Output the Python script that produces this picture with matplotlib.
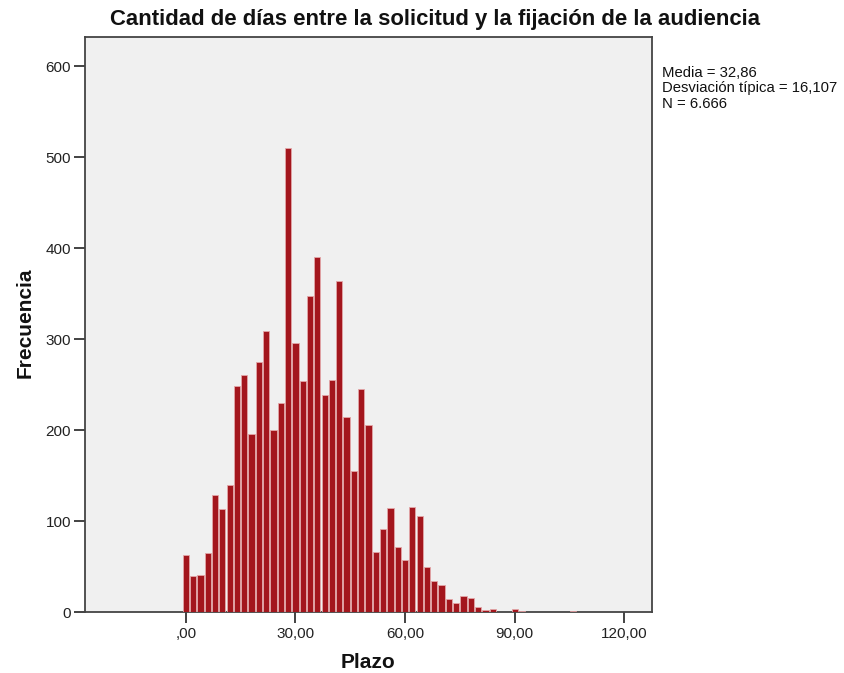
import matplotlib
matplotlib.use("Agg")
import matplotlib.pyplot as plt
import numpy as np

plt.rcParams['font.family'] = ['Liberation Sans', 'DejaVu Sans']

bin_centers_start = 0
bin_width = 2
counts = [63, 40, 41, 65, 129, 113, 140, 248, 261, 196, 275, 309, 200, 230,
          510, 296, 254, 347, 390, 239, 255, 364, 214, 155, 245, 205, 66, 91,
          114, 71, 57, 115, 105, 49, 34, 30, 14, 10, 18, 15, 5, 2, 3, 0, 0,
          3, 1, 0, 0, 0, 0, 0, 0, 1]
x_ticks = [0, 30, 60, 90, 120]
x_tick_labels = [",00", "30,00", "60,00", "90,00", "120,00"]
y_ticks = [0, 100, 200, 300, 400, 500, 600]
title = "Cantidad de días entre la solicitud y la fijación de la audiencia"
stats_text = "Media = 32,86\nDesviación típica = 16,107\nN = 6.666"

centers = bin_centers_start + bin_width * np.arange(len(counts))

fig = plt.figure(figsize=(8.44, 6.73), dpi=100)
ax = fig.add_axes([85/844, 1-612/673, (652-85)/844, (612-37)/673])
ax.set_facecolor('#F0F0F0')
ax.bar(centers, counts, width=1.7, color='#A3161D', edgecolor='#E3A6A8',
       linewidth=0.6, zorder=3)
ax.set_xlim(-27.6, 127.6)
ax.set_ylim(0, 632)
ax.set_xticks(x_ticks)
ax.set_xticklabels(x_tick_labels)
ax.set_yticks(y_ticks)
ax.tick_params(axis='both', direction='out', length=8, width=1.2,
               color='#222222', labelsize=11, labelcolor='#222222')
ax.tick_params(axis='x', pad=3)
ax.tick_params(axis='y', pad=2)
for s in ax.spines.values():
    s.set_color('#444444')
    s.set_linewidth(1.3)

fig.text(368/844, 1-663/673, "Plazo", fontsize=15, fontweight='bold',
         ha='center', va='center', color='#111111')
fig.text(25/844, 1-323/673, "Frecuencia", fontsize=15, fontweight='bold',
         ha='center', va='center', rotation=90, color='#111111')

fig.text(435/844, 1-20/673, title, fontsize=15.9, fontweight='bold',
         ha='center', va='center', color='#111111')
fig.text(662/844, 1-66/673, stats_text, fontsize=10.7, ha='left', va='top',
         color='#111111', linespacing=1.12)

fig.savefig("out.png", dpi=100)
